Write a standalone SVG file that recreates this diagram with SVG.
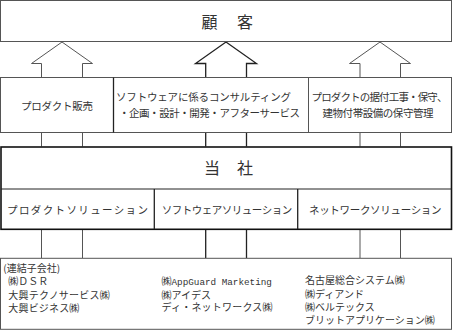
<svg xmlns="http://www.w3.org/2000/svg" width="453" height="331" viewBox="0 0 453 331">
<style>
.box{fill:#fff;stroke:#555;stroke-width:1}
.main{fill:#fff;stroke:#111;stroke-width:1.6}
.ln{stroke:#555;stroke-width:1;fill:none}
.dk{stroke:#222;stroke-width:1.3;fill:none}
text{font-family:"Noto Sans CJK JP","Noto Sans",sans-serif;fill:#333;font-size:10.5px}
.big{font-size:16px}
.sm{font-size:10px}
.mono{font-family:"Liberation Mono",monospace;font-size:9.3px}
</style>
<rect width="453" height="331" fill="#fff"/>
<g id="connectors">
<path class="ln" d="M41.5,146.5V63.5H31.5L62,42L92.5,63.5H82.5V146.5"/>
<path class="dk" d="M205.7,146.5V63.5H195.5L226,42L256.5,63.5H246.5V146.5"/>
<path class="ln" d="M360,146.5V63.5H349.5L380,42L410.5,63.5H400.5V146.5"/>
<path class="ln" d="M41.5,229V258M82.5,229V258M360,229V258M400.5,229V258"/>
<path class="dk" d="M205.7,229V258M246.5,229V258"/>
</g>
<g id="customer">
<rect class="box" x="0.5" y="0.5" width="451" height="41"/>
<text class="big" x="201.5 237" y="27.5">顧客</text>
</g>
<g id="sales">
<rect class="box" x="0.5" y="77.5" width="113" height="55"/>
<text x="57" y="109.5" text-anchor="middle" textLength="72" lengthAdjust="spacing">プロダクト販売</text>
</g>
<g id="software-service">
<rect class="box" x="113.5" y="77.5" width="195" height="55"/>
<line class="dk" x1="113.5" y1="77.5" x2="113.5" y2="132.5"/>
<text x="116" y="101" textLength="175" lengthAdjust="spacing">ソフトウェアに係るコンサルティング</text>
<text x="119" y="116.5" textLength="181" lengthAdjust="spacing">・企画・設計・開発・アフターサービス</text>
</g>
<g id="installation">
<rect class="box" x="308.5" y="77.5" width="143" height="55"/>
<text x="311.5" y="101" textLength="136" lengthAdjust="spacing">プロダクトの据付工事・保守、</text>
<text x="322.5" y="116.5" textLength="111" lengthAdjust="spacing">建物付帯設備の保守管理</text>
</g>
<g id="company">
<rect class="main" x="1" y="147" width="450.5" height="82.3"/>
<line class="dk" x1="1" y1="189" x2="451.5" y2="189" style="stroke-width:1"/>
<text class="big" x="204 237" y="174">当社</text>
</g>
<g id="product-solution">
<line class="dk" x1="154.3" y1="189" x2="154.3" y2="229"/>
<text x="7" y="213.5" textLength="141" lengthAdjust="spacing">プロダクトソリューション</text>
</g>
<g id="software-solution">
<line class="dk" x1="297.7" y1="189" x2="297.7" y2="229"/>
<text x="161.7" y="213.5" textLength="130.5" lengthAdjust="spacing">ソフトウェアソリューション</text>
</g>
<g id="network-solution">
<text x="309" y="213.5" textLength="132.5" lengthAdjust="spacing">ネットワークソリューション</text>
</g>
<g id="subsidiaries">
<rect class="box" x="0.5" y="258.3" width="451" height="71"/>
<text class="sm" x="3.3" y="271.8">(連結子会社)</text>
<text class="sm" x="8.3" y="285" textLength="40" lengthAdjust="spacing">㈱ＤＳＲ</text>
<text class="sm" x="8.3" y="299.3" textLength="101.5" lengthAdjust="spacing">大興テクノサービス㈱</text>
<text class="sm" x="8.3" y="312.3" textLength="71" lengthAdjust="spacing">大興ビジネス㈱</text>
<text class="sm" x="161.5" y="285">㈱<tspan class="mono">AppGuard Marketing</tspan></text>
<text class="sm" x="161.5" y="298.8">㈱アイデス</text>
<text class="sm" x="161.5" y="310.6" textLength="111" lengthAdjust="spacing">ディ・ネットワークス㈱</text>
<text class="sm" x="305" y="284">名古屋総合システム㈱</text>
<text class="sm" x="305" y="298">㈱ディアンド</text>
<text class="sm" x="305" y="310.6">㈱ベルテックス</text>
<text class="sm" x="305" y="324">ブリットアプリケーション㈱</text>
</g>
</svg>
